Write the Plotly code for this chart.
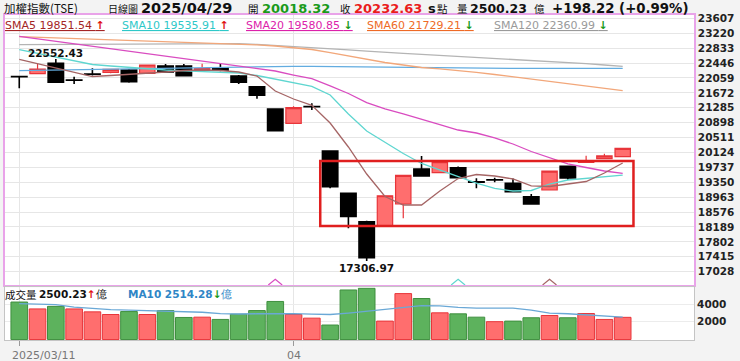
import plotly.graph_objects as go

# ---------------- data ----------------
idx = list(range(34))
opens = [22095, 22169, 22439, 22002, 22160, 22205, 22265, 22179, 22369, 22369,
         22260, 22325, 22109, 21831, 21252, 20881, 21318, 20162, 19064, 18327,
         18222, 18786, 19694, 19599, 19729, 19360, 19412, 19323, 18976, 19150,
         19765, 19869, 19962, 20018.32]
highs = [22100, 22421, 22552.43, 22091, 22309, 22295, 22290, 22400, 22420, 22420,
         22428, 22421, 22135, 21840, 21260, 21322, 21400, 20170, 19070, 18354,
         19010, 19530, 20032, 19890, 19760, 19453, 19470, 19450, 19046, 19642,
         19770, 20040, 20092, 20245]
lows = [21790, 22160, 21940, 21901, 22120, 22179, 21935, 22170, 22195, 22110,
        22240, 22230, 21901, 21520, 20680, 20875, 21226, 19194, 18155, 17306.97,
        18215, 18415, 19505, 19585, 19460, 19194, 19350, 19100, 18780, 19140,
        19417, 19850, 19955, 20010]
closes = [22090, 22291, 21946, 21997, 22153, 22283, 21961, 22395, 22213, 22117,
          22300, 22257, 21946, 21608, 20689, 21286, 21312, 19232, 18460, 17392,
          19000, 19528, 19513, 19885, 19469, 19349, 19409, 19106, 18786, 19642,
          19461, 19911, 20034.41, 20232.63]

sma5 = [22543, 22434, 22317, 22200, 22096, 22122, 22148, 22174, 22213, 22252,
        22265, 22252, 22213, 22109, 21720, 21512, 21348, 20889, 20266, 19565,
        18981, 18760, 18760, 19124, 19448, 19552, 19513, 19435, 19254, 19241,
        19305, 19370, 19591, 19851.54]
sma10 = [22792, 22693, 22602, 22511, 22408, 22369, 22330, 22291, 22265, 22244,
         22231, 22213, 22187, 22122, 22031, 21927, 21842, 21616, 21123, 20681,
         20396, 20097, 19838, 19669, 19487, 19331, 19189, 19124, 19137, 19305,
         19409, 19448, 19500, 19535.91]
sma20 = [23140, 23075, 23013, 22948, 22883, 22820, 22756, 22691, 22626, 22563,
         22499, 22434, 22371, 22299, 22239, 22135, 22039, 21855, 21655, 21416,
         21255, 21123, 20993, 20847, 20707, 20629, 20500, 20344, 20149, 19993,
         19825, 19734, 19643, 19580.85]
sma60 = [23132, 23116, 23101, 23085, 23070, 23054, 23038, 23022, 23007, 22991,
         22976, 22958, 22940, 22915, 22888, 22845, 22797, 22715, 22628, 22545,
         22460, 22395, 22330, 22293, 22257, 22203, 22148, 22090, 22031, 21972,
         21914, 21856, 21798, 21729.21]
sma120 = [22925, 22928, 22931, 22934, 22937, 22940, 22942, 22944, 22946, 22948,
          22950, 22950, 22948, 22930, 22905, 22880, 22850, 22820, 22790, 22755,
          22720, 22695, 22670, 22645, 22622, 22600, 22575, 22548, 22520, 22495,
          22465, 22430, 22395, 22360.99]
sma240 = [22247, 22255, 22264, 22273, 22282, 22291, 22300, 22310, 22320, 22329,
          22338, 22347, 22356, 22358, 22360, 22361, 22361, 22355, 22348, 22340,
          22333, 22326, 22318, 22311, 22304, 22304, 22305, 22305, 22306, 22306,
          22307, 22308, 22308, 22309]

volume = [4221, 3448, 3735, 3448, 3116, 2818, 3149, 2818, 3260, 2486,
          2519, 2265, 2851, 3260, 4287, 2818, 2409, 1635, 5580, 5768,
          2077, 5171, 4619, 3006, 2895, 2519, 2011, 2077, 2453, 2707,
          2453, 2928, 2265, 2500.23]
vol_ma10 = [4033, 3978, 3923, 3646, 3481, 3370, 3315, 3260, 3182, 3127,
            3072, 2928, 2873, 2906, 2928, 2928, 2851, 2818, 2984, 3205,
            3403, 3591, 3812, 3790, 3613, 3536, 3558, 3536, 3315, 2984,
            2906, 2763, 2597, 2514.28]

price_ticks = [17028, 17415, 17802, 18189, 18576, 18963, 19350, 19737, 20124,
               20511, 20898, 21285, 21672, 22059, 22446, 22833, 23220, 23607]
vol_ticks = [2000, 4000]
date_tick_pos = [0, 15]
date_tick_text = ["2025/03/11", "04"]
deduct_idx = {"sma20": 14, "sma10": 24, "sma5": 29}
box_x = [16.46, 33.59]
box_y = [18215, 19902]

# ---------------- styling ----------------
RED_FILL, RED_LINE = "#ff6e6e", "#e8353a"
GRN_FILL, GRN_LINE = "#5db25d", "#3f8f3f"
PINK = "#e9a3e9"
C5, C10, C20, C60, C120, C240 = "#a56565", "#5fd6d0", "#d94cc0", "#f2a77a", "#b4b4b4", "#62ace0"
FONT = "DejaVu Sans"
CJK = "Noto Sans CJK TC"

W, H = 740, 361
ML, MR, MT, MB = 3, 46, 15, 21
PW, PH = W - ML - MR, H - MT - MB


def px(xp):
    return (xp - ML) / PW


def py(yp):
    return (H - MB - yp) / PH


price_dom = [py(285), 1]
vol_dom = [0, py(287.3)]

fig = go.Figure()

fig.add_trace(go.Candlestick(
    x=idx, open=opens, high=highs, low=lows, close=closes,
    increasing=dict(fillcolor=RED_FILL, line=dict(color=RED_LINE, width=1.2)),
    decreasing=dict(fillcolor="#000000", line=dict(color="#000000", width=1.6)),
    whiskerwidth=0, xaxis="x", yaxis="y", hoverinfo="skip", showlegend=False))

for ys, col in [(sma120, C120), (sma240, C240), (sma60, C60), (sma20, C20), (sma10, C10), (sma5, C5)]:
    fig.add_trace(go.Scatter(x=idx, y=ys, mode="lines", line=dict(color=col, width=1.3),
                             xaxis="x", yaxis="y", hoverinfo="skip", showlegend=False))

# deduction chevrons at the bottom edge of the price panel
ybot = 16683
for key, col in [("sma20", C20), ("sma10", C10), ("sma5", C5)]:
    i = deduct_idx[key]
    fig.add_trace(go.Scatter(x=[i - 0.38, i, i + 0.38], y=[ybot, ybot + 150, ybot], mode="lines",
                             line=dict(color=col, width=1.2), xaxis="x", yaxis="y",
                             hoverinfo="skip", showlegend=False))

# volume
vcol, vline = [], []
for i in idx:
    up = i > 0 and closes[i] >= closes[i - 1]
    vcol.append(RED_FILL if up else GRN_FILL)
    vline.append(RED_LINE if up else GRN_LINE)
fig.add_trace(go.Bar(x=idx, y=volume, marker=dict(color=vcol, line=dict(color=vline, width=1)),
                     xaxis="x2", yaxis="y2", hoverinfo="skip", showlegend=False))
fig.add_trace(go.Scatter(x=idx, y=vol_ma10, mode="lines", line=dict(color="#6aa8d6", width=1.3),
                         xaxis="x2", yaxis="y2", hoverinfo="skip", showlegend=False))

xr = [-0.78, 36.9]
tickfont = dict(family=FONT, size=10.5, color="#222222", weight="bold")
fig.update_layout(
    width=W, height=H, margin=dict(l=ML, r=MR, t=MT, b=MB),
    paper_bgcolor="#f3f3f3", plot_bgcolor="#ffffff",
    boxgap=0.16, boxgroupgap=0, bargap=0.09, showlegend=False,
    xaxis=dict(domain=[0, 1], anchor="y", range=xr, tickvals=date_tick_pos, showticklabels=False,
               showgrid=True, gridcolor="#e6e6e6", showline=True, linecolor=PINK, linewidth=1.5,
               mirror=True, zeroline=False, rangeslider=dict(visible=False), ticks=""),
    yaxis=dict(domain=price_dom, anchor="x", range=[16683, 23693], side="right",
               tickvals=price_ticks, ticktext=[str(v) for v in price_ticks], tickfont=tickfont,
               showgrid=True, gridcolor="#e6e6e6", showline=True, linecolor=PINK, linewidth=1.5,
               mirror=True, zeroline=False, ticks="", ticklabelstandoff=0),
    xaxis2=dict(domain=[0, 1], anchor="y2", range=xr, tickvals=date_tick_pos, showticklabels=False,
                showgrid=True, gridcolor="#e6e6e6", showline=True, linecolor="#c4c4c4", mirror=True,
                zeroline=False, ticks="outside", ticklen=5, tickcolor="#999999"),
    yaxis2=dict(domain=vol_dom, anchor="x2", range=[-50, 5880], side="right", tickvals=vol_ticks,
                tickfont=tickfont, showgrid=True, gridcolor="#ececec", showline=True,
                linecolor="#c4c4c4", mirror=True, zeroline=False, ticks="", ticklabelstandoff=0),
)

ann = []


def t(xp, yp, text, size, color="#111111", family=FONT, weight="normal"):
    ann.append(dict(x=px(xp), y=py(yp), xref="paper", yref="paper", xanchor="left", yanchor="middle",
                    text=text, showarrow=False, borderpad=0,
                    font=dict(family=family, size=size, color=color, weight=weight)))


# header
HY = 8.5
t(1, HY, "加權指數(TSE)", 11.5, "#111111", CJK)
t(105, HY, "日線圖", 10, "#111111", CJK)
t(138, HY, "2025/04/29", 14.5, "#111111", FONT, "bold")
t(246, HY, "開", 10.5, "#111111", CJK)
t(260, HY, "20018.32", 13, "#1a9a1a", FONT, "bold")
t(338, HY, "收", 10.5, "#111111", CJK)
t(352, HY, "20232.63", 13, "#ea1c1c", FONT, "bold")
t(426, HY, "s", 13, "#111111", FONT, "bold")
t(435, HY, "點", 10.5, "#111111", CJK)
t(455, HY, "量", 10.5, "#111111", CJK)
t(468, HY, "2500.23", 12.5, "#111111", FONT, "bold")
t(533, HY, "億", 10.5, "#111111", CJK)
t(551, HY, "+198.22 (+0.99%)", 13.3, "#111111", FONT, "bold")

UP = "<span style='color:#e01010'><b>↑</b></span>"
DN = "<span style='color:#1a9a1a'><b>↓</b></span>"
t(2, 25, "<u>SMA5 19851.54 " + UP + "</u>", 11, "#a52525")
t(119, 25, "<u>SMA10 19535.91 " + UP + "</u>", 11, "#2ec8c8")
t(244, 25, "<u>SMA20 19580.85 " + DN + "</u>", 11, "#dc22aa")
t(365, 25, "<u>SMA60 21729.21 " + DN + "</u>", 11, "#ee6a26")
t(492, 25, "<u>SMA120 22360.99 " + DN + "</u>", 11, "#9a9a9a")

# volume header
t(2, 294, "成交量", 10.5, "#111111", CJK)
t(36, 294, "<b>2500.23</b>" + UP + "億", 10.5, "#111111")
t(125, 294, "<b>MA10 2514.28</b>" + DN + "億", 10.5, "#2f86c6")

# date labels
ann.append(dict(x=px(8), y=py(355), xref="paper", yref="paper", xanchor="left", yanchor="middle",
                text=date_tick_text[0], showarrow=False, font=dict(family=FONT, size=11, color="#777777")))
ann.append(dict(x=date_tick_pos[1], y=py(355), xref="x2", yref="paper", xanchor="center", yanchor="middle",
                text=date_tick_text[1], showarrow=False, font=dict(family=FONT, size=11, color="#777777")))

# max / min labels
imax = highs.index(max(highs))
imin = lows.index(min(lows))
ann.append(dict(x=imax, y=highs[imax], xref="x", yref="y", xanchor="center", yanchor="bottom",
                text=f"{highs[imax]:.2f}", showarrow=False, yshift=-2,
                font=dict(family=FONT, size=10.5, color="#111111", weight="bold")))
ann.append(dict(x=imin, y=lows[imin], xref="x", yref="y", xanchor="center", yanchor="top",
                text=f"{lows[imin]:.2f}", showarrow=False, yshift=1,
                font=dict(family=FONT, size=10.5, color="#111111", weight="bold")))

fig.update_layout(annotations=ann)

fig.add_shape(type="rect", xref="x", yref="y", x0=box_x[0], x1=box_x[1], y0=box_y[0], y1=box_y[1],
              line=dict(color="#e01f1f", width=2.5), fillcolor="rgba(0,0,0,0)")

fig.write_html("out.html", config={"displayModeBar": False},
               post_script="document.body.style.margin='0';document.body.style.overflow='hidden';")
